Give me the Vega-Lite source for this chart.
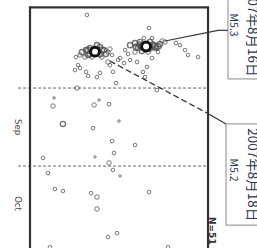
{
  "$schema": "https://vega.github.io/schema/vega-lite/v6.json",
  "width": 257,
  "height": 248,
  "padding": 0,
  "autosize": {"type": "none"},
  "config": {"view": {"stroke": null}},
  "datasets": {
    "quakes": [
      {"km": 32.0, "day": 2.9, "mag": 2}, {"km": 66.9, "day": 7.9, "mag": 2}, {"km": 26.4, "day": 31.0, "mag": 2.5},
      {"km": 48.3, "day": 29.1, "mag": 2}, {"km": 12.9, "day": 37.9, "mag": 2.5}, {"km": 13.5, "day": 34.8, "mag": 1.5},
      {"km": 36.0, "day": 37.5, "mag": 2.5}, {"km": 38.8, "day": 35.6, "mag": 1.5}, {"km": 44.4, "day": 37.2, "mag": 2},
      {"km": 18.5, "day": 44.8, "mag": 3}, {"km": 35.4, "day": 46.4, "mag": 2}, {"km": 50.0, "day": 43.7, "mag": 1.5},
      {"km": 46.1, "day": 51.4, "mag": 2}, {"km": 59.0, "day": 52.9, "mag": 2}, {"km": 47.2, "day": 56.0, "mag": 2},
      {"km": 36.5, "day": 57.5, "mag": 1.5}, {"km": 7.3, "day": 57.9, "mag": 2}, {"km": 44.4, "day": 59.8, "mag": 2.5},
      {"km": 46.6, "day": 62.5, "mag": 2}, {"km": 50.6, "day": 64.8, "mag": 1.5}, {"km": 10.1, "day": 63.7, "mag": 2},
      {"km": 14.0, "day": 69.8, "mag": 2}, {"km": 18.5, "day": 70.6, "mag": 2}, {"km": 34.3, "day": 71.4, "mag": 2},
      {"km": 37.6, "day": 72.9, "mag": 2.5}, {"km": 66.9, "day": 71.0, "mag": 2}, {"km": 37.6, "day": 77.5, "mag": 2.5},
      {"km": 48.9, "day": 86.8, "mag": 2}, {"km": 43.8, "day": 88.3, "mag": 2}, {"km": 11.2, "day": 92.2, "mag": 2},
      {"km": 77.5, "day": 92.2, "mag": 2}, {"km": 71.3, "day": 31.8, "mag": 2}, {"km": 25.8, "day": 19.1, "mag": 2},
      {"km": 29.2, "day": 17.2, "mag": 3}, {"km": 31.5, "day": 16.4, "mag": 3}, {"km": 32.6, "day": 18.3, "mag": 3},
      {"km": 33.7, "day": 15.6, "mag": 3}, {"km": 39.3, "day": 15.2, "mag": 3}, {"km": 41.6, "day": 16.4, "mag": 3},
      {"km": 42.7, "day": 17.9, "mag": 3}, {"km": 40.4, "day": 19.1, "mag": 2.5}, {"km": 34.8, "day": 19.1, "mag": 2.5},
      {"km": 37.6, "day": 14.5, "mag": 3}, {"km": 43.8, "day": 17.2, "mag": 2.5}, {"km": 44.9, "day": 16.0, "mag": 2.5},
      {"km": 30.9, "day": 19.1, "mag": 2.5}, {"km": 28.1, "day": 18.3, "mag": 2.5}, {"km": 46.1, "day": 18.3, "mag": 2},
      {"km": 32.6, "day": 16.4, "mag": 3.5}, {"km": 40.4, "day": 16.4, "mag": 3.5}, {"km": 33.7, "day": 17.9, "mag": 3.5},
      {"km": 39.3, "day": 17.9, "mag": 3.5},
      {"km": 25.3, "day": 24.1, "mag": 2}, {"km": 28.1, "day": 23.3, "mag": 2}, {"km": 31.5, "day": 24.8, "mag": 2},
      {"km": 32.6, "day": 26.4, "mag": 2}, {"km": 37.6, "day": 26.8, "mag": 2}, {"km": 39.3, "day": 25.2, "mag": 2},
      {"km": 44.9, "day": 22.2, "mag": 2}, {"km": 46.6, "day": 24.8, "mag": 2}, {"km": 43.8, "day": 21.0, "mag": 2.5},
      {"km": 49.4, "day": 20.2, "mag": 2}, {"km": 52.8, "day": 21.4, "mag": 2}, {"km": 27.0, "day": 22.2, "mag": 2},
      {"km": 56.2, "day": 14.5, "mag": 3}, {"km": 59.0, "day": 13.7, "mag": 3}, {"km": 60.7, "day": 15.6, "mag": 3},
      {"km": 61.8, "day": 13.3, "mag": 3}, {"km": 67.4, "day": 13.3, "mag": 3}, {"km": 69.1, "day": 14.5, "mag": 3.5},
      {"km": 70.8, "day": 15.6, "mag": 3}, {"km": 73.0, "day": 14.1, "mag": 3}, {"km": 74.2, "day": 12.9, "mag": 2.5},
      {"km": 62.9, "day": 16.8, "mag": 3}, {"km": 66.3, "day": 17.2, "mag": 2.5}, {"km": 53.4, "day": 16.4, "mag": 2},
      {"km": 55.1, "day": 17.9, "mag": 2}, {"km": 59.0, "day": 17.2, "mag": 2.5}, {"km": 71.9, "day": 17.2, "mag": 2},
      {"km": 75.8, "day": 13.3, "mag": 2.5}, {"km": 68.5, "day": 11.8, "mag": 2}, {"km": 64.0, "day": 11.8, "mag": 2},
      {"km": 61.8, "day": 14.5, "mag": 3.5}, {"km": 70.2, "day": 15.0, "mag": 3.5}, {"km": 67.4, "day": 15.6, "mag": 3.5},
      {"km": 62.9, "day": 15.0, "mag": 3.5}, {"km": 71.9, "day": 15.0, "mag": 3.5}, {"km": 59.6, "day": 15.2, "mag": 3.5},
      {"km": 82.0, "day": 13.7, "mag": 2}, {"km": 84.3, "day": 14.5, "mag": 2}, {"km": 87.1, "day": 16.4, "mag": 2},
      {"km": 88.8, "day": 18.3, "mag": 2}, {"km": 94.4, "day": 19.1, "mag": 2},
      {"km": 60.1, "day": 21.0, "mag": 2}, {"km": 65.7, "day": 22.9, "mag": 2}, {"km": 63.5, "day": 24.8, "mag": 2},
      {"km": 64.6, "day": 26.8, "mag": 2}, {"km": 50.6, "day": 19.5, "mag": 2}, {"km": 56.2, "day": 20.2, "mag": 2},
      {"km": 68.5, "day": 19.5, "mag": 2}
    ],
    "main": [
      {"km": 65.2, "day": 15.0, "mag": 5.3},
      {"km": 36.5, "day": 17.0, "mag": 5.2}
    ],
    "frame": [
      {"km": 0, "day": 0, "km2": 100, "day2": 0},
      {"km": 0, "day": 0, "km2": 0, "day2": 100},
      {"km": 100, "day": 0, "km2": 100, "day2": 100}
    ],
    "months": [
      {"km": -6.7, "km2": 100, "day": 31, "month": "Sep"},
      {"km": -6.7, "km2": 100, "day": 61, "month": "Oct"}
    ],
    "monthLabels": [
      {"km": -6.7, "day": 46.0, "label": "Sep"},
      {"km": -6.7, "day": 75.4, "label": "Oct"}
    ],
    "boxes": [
      {"km": 111.2, "km2": 140, "day": -10, "day2": 27.5},
      {"km": 110.1, "km2": 140, "day": 44.8, "day2": 83.7}
    ],
    "solidLeaders": [
      {"km": 75.8, "day": 12.9, "km2": 105.6, "day2": 8.8},
      {"km": 105.6, "day": 8.8, "km2": 111.2, "day2": 8.8},
      {"km": 99.4, "day": 40.6, "km2": 110.1, "day2": 44.8}
    ],
    "dashedLeaders": [
      {"km": 44.9, "day": 20.6, "km2": 99.4, "day2": 40.6}
    ],
    "dates": [
      {"km": 124.7, "day": 8.7, "label": "2007年8月16日"},
      {"km": 124.7, "day": 64.3, "label": "2007年8月18日"}
    ],
    "mags": [
      {"km": 114.3, "day": 6.8, "label": "M5.3"},
      {"km": 114.0, "day": 62.5, "label": "M5.2"}
    ],
    "count": [
      {"km": 102.2, "day": 80.6, "label": "N=51"}
    ]
  },
  "encoding": {
    "x": {"field": "km", "type": "quantitative", "axis": null,
          "scale": {"domain": [-16.85, 127.5], "nice": false, "zero": false}},
    "y": {"field": "day", "type": "quantitative", "axis": null,
          "scale": {"domain": [-2.85, 92.5], "nice": false, "zero": false, "reverse": true}}
  },
  "layer": [
    {
      "data": {"name": "months"},
      "mark": {"type": "rule", "stroke": "#666", "strokeWidth": 1, "strokeDash": [3, 2]},
      "encoding": {"x2": {"field": "km2"}}
    },
    {
      "data": {"name": "frame"},
      "mark": {"type": "rule", "stroke": "#333", "strokeWidth": 2.2, "strokeCap": "round"},
      "encoding": {"x2": {"field": "km2"}, "y2": {"field": "day2"}}
    },
    {
      "data": {"name": "quakes"},
      "mark": {"type": "point", "shape": "circle", "filled": false, "stroke": "#555", "opacity": 0.8},
      "encoding": {
        "size": {"field": "mag", "type": "quantitative", "legend": null,
                 "scale": {"domain": [1.5, 3.5], "range": [6, 34]}},
        "strokeWidth": {"field": "mag", "type": "quantitative", "legend": null,
                 "scale": {"domain": [2.5, 3.5], "range": [1, 1.8], "clamp": true}}
      }
    },
    {
      "data": {"name": "solidLeaders"},
      "mark": {"type": "rule", "stroke": "#333", "strokeWidth": 1.2},
      "encoding": {"x2": {"field": "km2"}, "y2": {"field": "day2"}}
    },
    {
      "data": {"name": "dashedLeaders"},
      "mark": {"type": "rule", "stroke": "#333", "strokeWidth": 1.3, "strokeDash": [6, 3]},
      "encoding": {"x2": {"field": "km2"}, "y2": {"field": "day2"}}
    },
    {
      "data": {"name": "main"},
      "mark": {"type": "point", "shape": "circle", "filled": true, "fill": "white", "stroke": "#111", "strokeWidth": 3, "size": 80, "opacity": 1}
    },
    {
      "data": {"name": "boxes"},
      "mark": {"type": "rect", "fill": "white", "stroke": "#888", "strokeWidth": 1},
      "encoding": {"x2": {"field": "km2"}, "y2": {"field": "day2"}}
    },
    {
      "data": {"name": "dates"},
      "mark": {"type": "text", "angle": 90, "align": "center", "baseline": "middle", "font": "Noto Sans CJK JP", "fontSize": 13.5, "fill": "#2a3550"},
      "encoding": {"text": {"field": "label"}}
    },
    {
      "data": {"name": "mags"},
      "mark": {"type": "text", "angle": 90, "align": "center", "baseline": "middle", "font": "Noto Sans CJK JP", "fontSize": 10.5, "fill": "#2a3550"},
      "encoding": {"text": {"field": "label"}}
    },
    {
      "data": {"name": "monthLabels"},
      "mark": {"type": "text", "angle": 90, "align": "center", "baseline": "middle", "font": "DejaVu Sans", "fontSize": 8.5, "fill": "#444"},
      "encoding": {"text": {"field": "label"}}
    },
    {
      "data": {"name": "count"},
      "mark": {"type": "text", "angle": 90, "align": "left", "baseline": "middle", "font": "DejaVu Sans", "fontSize": 9, "fontWeight": "bold", "fill": "#333"},
      "encoding": {"text": {"field": "label"}}
    }
  ]
}
